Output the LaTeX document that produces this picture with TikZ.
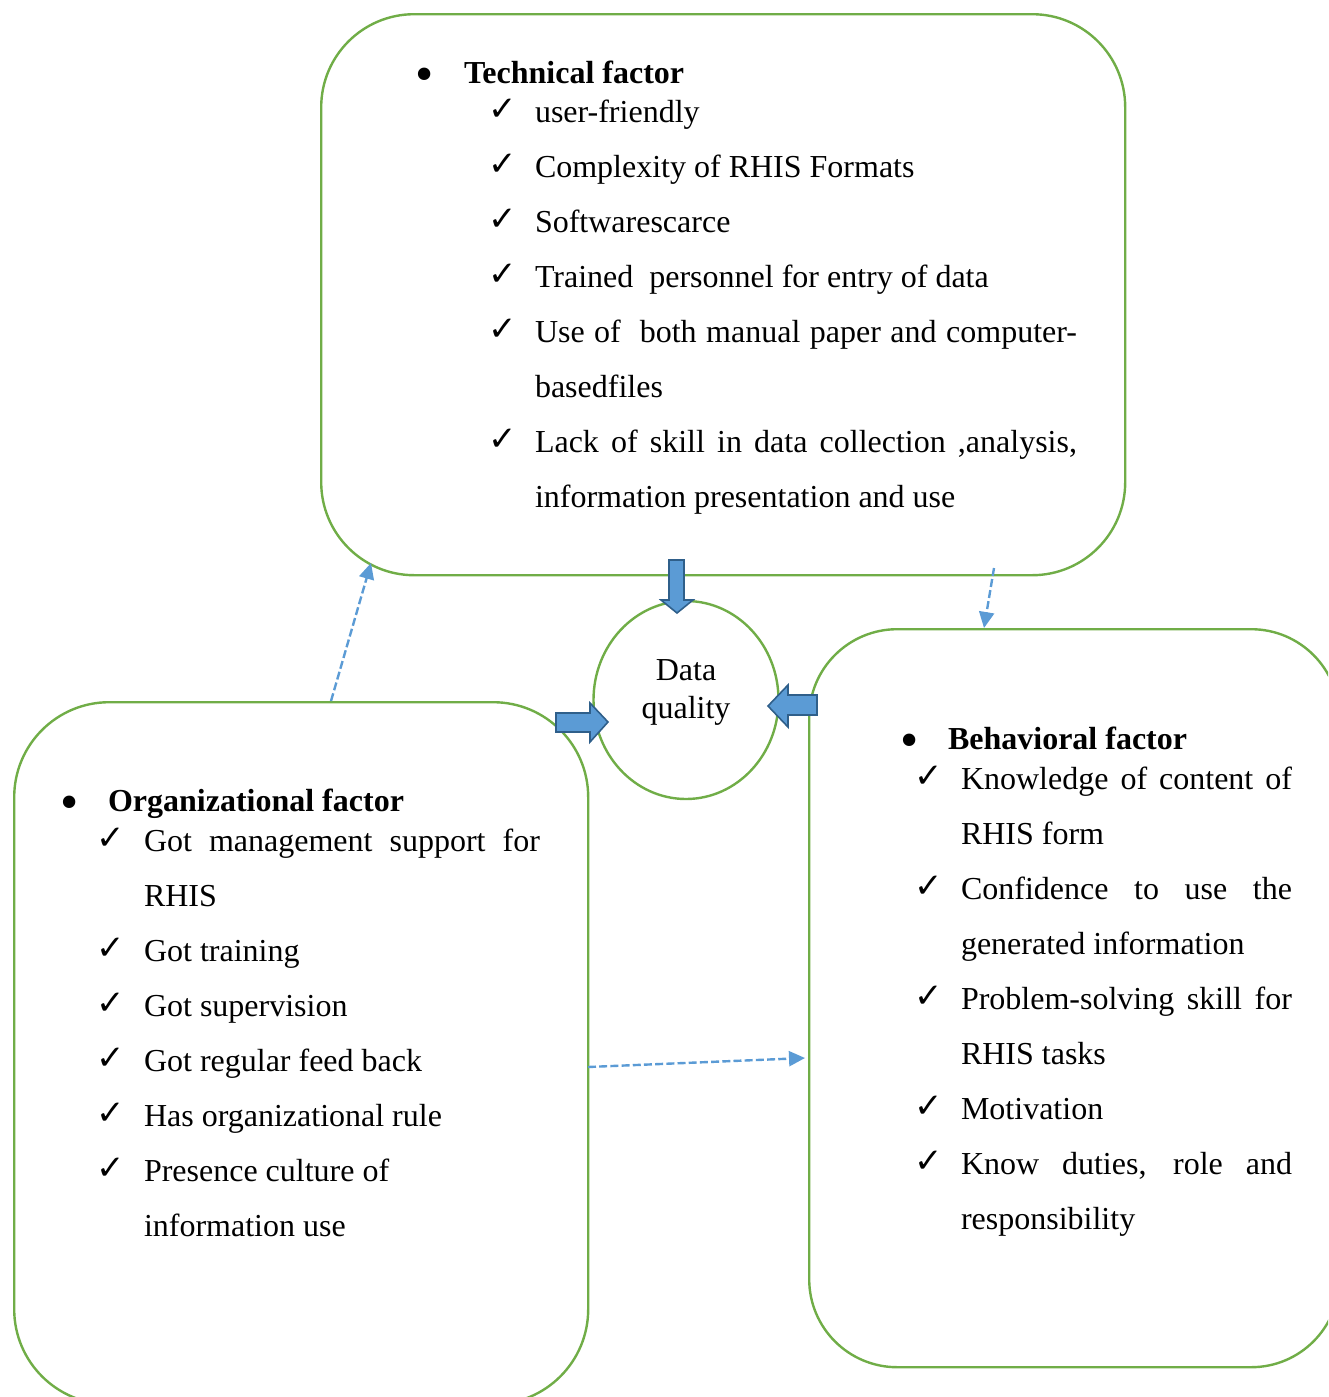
\documentclass[tikz,border=0pt]{standalone}
\usepackage{fontspec}
\setmainfont{Liberation Serif}
\newfontfamily\symfont{DejaVu Sans}
\usetikzlibrary{shapes.geometric,arrows.meta,calc}
\definecolor{boxgreen}{HTML}{70AD47}
\definecolor{arrblue}{HTML}{5B9BD5}
\definecolor{arrdark}{HTML}{2F5F8A}
\newcommand{\jline}[2]{\makebox[#1][s]{#2}}
\newcommand{\bigbul}{{\fontsize{26pt}{26pt}\selectfont\raisebox{-4.2pt}{\textbullet}}}
\begin{document}
\begin{tikzpicture}[x=0.5pt,y=-0.5pt,
  font=\fontsize{16pt}{19pt}\selectfont,
  box/.style={draw=boxgreen, line width=1.2pt, rectangle, inner sep=0pt, anchor=north west},
  txt/.style={anchor=base west, inner sep=0pt, outer sep=0pt},
  hd/.style={txt, font=\fontsize{16pt}{19pt}\selectfont\bfseries},
  bul/.style={txt},
  chk/.style={txt, font=\symfont\bfseries\fontsize{17pt}{17pt}\selectfont},
  dasharrow/.style={draw=arrblue, line width=1.2pt, dash pattern=on 4pt off 1.6pt, -{Triangle[length=8pt,width=7.5pt]}},
  blockarrow/.style={fill=arrblue, draw=arrdark, line width=0.8pt, line join=miter}]
\useasboundingbox (0,0) rectangle (1328,1397);
\clip (0,0) rectangle (1328,1397);

% boxes
\node[box, rounded corners=46.5pt, minimum width=402pt, minimum height=280.5pt] (tech) at (320,13) {};
\node[box, rounded corners=47.5pt, minimum width=287pt, minimum height=351pt] (org) at (13,701) {};
\node[box, rounded corners=44pt, minimum width=265pt, minimum height=369pt] (beh) at (808,628) {};
\node[draw=boxgreen, line width=1.2pt, ellipse, minimum width=92.5pt, minimum height=99pt, inner sep=0pt] (dq) at (686,700) {};
\node[anchor=base, inner sep=0pt] (dq1) at (686,680) {Data};
\node[anchor=base, inner sep=0pt] (dq2) at (686,718) {quality};

% block arrows
\path[blockarrow] (669,560) -- (684,560) -- (684,600) -- (693,600) -- (677,613) -- (661,600) -- (669,600) -- cycle;
\path[blockarrow] (556,713) -- (590,713) -- (590,703) -- (608,722) -- (590,742) -- (590,732) -- (556,732) -- cycle;
\path[blockarrow] (817,695) -- (788,695) -- (788,685) -- (768,706) -- (788,727) -- (788,715) -- (817,715) -- cycle;

% dashed arrows
\coordinate (a1s) at ($(org.north west)+(318,0)$);
\coordinate (a1e) at (371,563);
\coordinate (a2s) at (994,568);
\coordinate (a2e) at ($(beh.north west)+(176,0)$);
\coordinate (a3s) at (588,1067);
\coordinate (a3e) at (805,1058);
\draw[dasharrow] (a1s) -- (a1e);
\draw[dasharrow] (a2s) -- (a2e);
\draw[dasharrow] (a3s) -- (a3e);

% technical factor
\node[bul] (tb) at (415,83) {\bigbul};
\node[hd] (th) at (464,83) {Technical factor};
\node[chk] (tc1) at (488,120) {✓};
\node[txt] (tt1) at (535,122) {user-friendly};
\node[chk] (tc2) at (488,175) {✓};
\node[txt] (tt2) at (535,177) {Complexity of RHIS Formats};
\node[chk] (tc3) at (488,230) {✓};
\node[txt] (tt3) at (535,232) {Softwarescarce};
\node[chk] (tc4) at (488,285) {✓};
\node[txt] (tt4) at (535,287) {Trained\ \ personnel for entry of data};
\node[chk] (tc5) at (488,340) {✓};
\node[txt] (tt5) at (535,342) {\jline{271pt}{Use of\ \ both manual paper and computer-}};
\node[txt] (tt6) at (535,397) {basedfiles};
\node[chk] (tc7) at (488,450) {✓};
\node[txt] (tt7) at (535,452) {\jline{271pt}{Lack of skill in data collection ,analysis,}};
\node[txt] (tt8) at (535,507) {information presentation and use};

% organizational factor
\node[bul] (ob) at (60,811) {\bigbul};
\node[hd] (oh) at (108,811) {Organizational factor};
\node[chk] (oc1) at (96,849) {✓};
\node[txt] (ot1) at (144,851) {\jline{198pt}{Got management support for}};
\node[txt] (ot2) at (144,906) {RHIS};
\node[chk] (oc3) at (96,959) {✓};
\node[txt] (ot3) at (144,961) {Got training};
\node[chk] (oc4) at (96,1014) {✓};
\node[txt] (ot4) at (144,1016) {Got supervision};
\node[chk] (oc5) at (96,1069) {✓};
\node[txt] (ot5) at (144,1071) {Got regular feed back};
\node[chk] (oc6) at (96,1124) {✓};
\node[txt] (ot6) at (144,1126) {Has organizational rule};
\node[chk] (oc7) at (96,1179) {✓};
\node[txt] (ot7) at (144,1181) {Presence culture of};
\node[txt] (ot8) at (144,1236) {information use};

% behavioral factor
\node[bul] (bb) at (900,749) {\bigbul};
\node[hd] (bh) at (948,749) {Behavioral factor};
\node[chk] (bc1) at (914,787) {✓};
\node[txt] (bt1) at (961,789) {\jline{165.5pt}{Knowledge of content of}};
\node[txt] (bt2) at (961,844) {RHIS form};
\node[chk] (bc3) at (914,897) {✓};
\node[txt] (bt3) at (961,899) {\jline{165.5pt}{Confidence to use the}};
\node[txt] (bt4) at (961,954) {generated information};
\node[chk] (bc5) at (914,1007) {✓};
\node[txt] (bt5) at (961,1009) {\jline{165.5pt}{Problem-solving skill for}};
\node[txt] (bt6) at (961,1064) {RHIS tasks};
\node[chk] (bc7) at (914,1117) {✓};
\node[txt] (bt7) at (961,1119) {Motivation};
\node[chk] (bc8) at (914,1172) {✓};
\node[txt] (bt8) at (961,1174) {\jline{165.5pt}{Know duties, role and}};
\node[txt] (bt9) at (961,1229) {responsibility};
\end{tikzpicture}
\end{document}
